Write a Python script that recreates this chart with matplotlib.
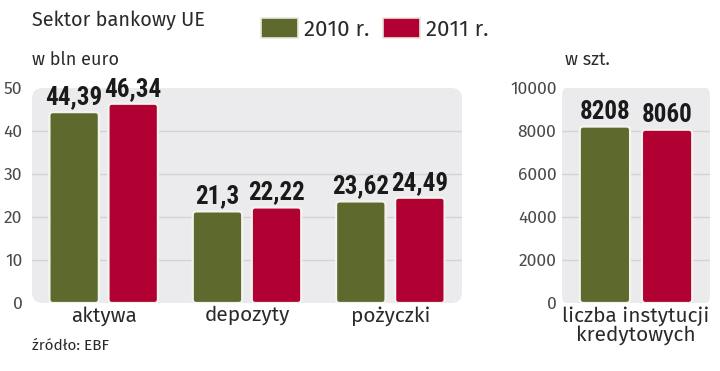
import matplotlib
matplotlib.use("Agg")
import matplotlib.pyplot as plt
from matplotlib.patches import FancyBboxPatch, Patch

plt.rcParams["font.family"] = ["Fira Sans", "DejaVu Sans"]
plt.rcParams["font.weight"] = "normal"

# data
categories = ["aktywa", "depozyty", "pożyczki"]
values_2010 = [44.39, 21.3, 23.62]
values_2011 = [46.34, 22.22, 24.49]
labels_2010 = ["44,39", "21,3", "23,62"]
labels_2011 = ["46,34", "22,22", "24,49"]
left_ticks = [0, 10, 20, 30, 40, 50]

inst_category = ["liczba instytucji\nkredytowych"]
inst_2010 = [8208]
inst_2011 = [8060]
right_ticks = [0, 2000, 4000, 6000, 8000, 10000]

years = ["2010 r.", "2011 r."]
GREEN = "#5e692d"
RED = "#b10032"
BG = "#ebebed"
GRID = "#d3d3d6"
TXT = "#2a2a2a"
VAL_FONT = dict(fontsize=18, fontweight="bold", family=["Roboto Condensed", "DejaVu Sans"],
                color="#1a1a1a", ha="center", va="bottom")


def rounded_bars(ax, bars, aspect, color):
    # swap plain bars for rounded ones
    for b in bars:
        x, y = b.get_x(), b.get_y()
        w, h = b.get_width(), b.get_height()
        b.remove()
        p = FancyBboxPatch((x, y), w, h, boxstyle="round,pad=0,rounding_size=0.025",
                           mutation_aspect=aspect, facecolor=color,
                           edgecolor="#f4f4ee", linewidth=1.6, zorder=3)
        ax.add_patch(p)


def setup(ax, ticks, pad):
    ax.set_facecolor("none")
    for s in ax.spines.values():
        s.set_visible(False)
    bg = FancyBboxPatch((0, 0), 1, 1, boxstyle="round,pad=0,rounding_size=0.025",
                        transform=ax.transAxes, facecolor=BG, edgecolor="none",
                        zorder=0, mutation_aspect=430 / 215)
    ax.add_patch(bg)
    ax.set_ylim(ticks[0], ticks[-1])
    ax.set_yticks(ticks)
    for t in ticks[1:-1]:
        ax.axhline(t, color=GRID, lw=1, zorder=1)
    ax.tick_params(axis="y", length=0, pad=pad, labelsize=12.5, labelcolor="#4a4a4a")
    ax.tick_params(axis="x", length=0, pad=2, labelsize=15, labelcolor=TXT)


fig = plt.figure(figsize=(7.2, 3.71), dpi=100)
fig.patch.set_facecolor("white")

# left panel
ax1 = fig.add_axes([32 / 720, 68 / 371, 430 / 720, 215 / 371])
setup(ax1, left_ticks, 7)
x = list(range(len(categories)))
off = 0.206
w = 0.345
b1 = ax1.bar([i - off for i in x], values_2010, w, color=GREEN)
b2 = ax1.bar([i + off for i in x], values_2011, w, color=RED)
asp1 = (50 / 215) * 143.5
rounded_bars(ax1, b1, asp1, GREEN)
rounded_bars(ax1, b2, asp1, RED)
for i in x:
    ax1.annotate(labels_2010[i], (i - off, values_2010[i]), xytext=(0, 2),
                 textcoords="offset points", **VAL_FONT)
    ax1.annotate(labels_2011[i], (i + off, values_2011[i]), xytext=(0, 2),
                 textcoords="offset points", **VAL_FONT)
ax1.set_xlim(-0.5, len(categories) - 0.5)
ax1.set_xticks(x, categories)

# right panel
ax2 = fig.add_axes([562 / 720, 68 / 371, 148 / 720, 215 / 371])
setup(ax2, right_ticks, 4)
b3 = ax2.bar([-0.21], inst_2010, 0.34, color=GREEN)
b4 = ax2.bar([0.21], inst_2011, 0.34, color=RED)
asp2 = (10000 / 215) * 148
rounded_bars(ax2, b3, asp2, GREEN)
rounded_bars(ax2, b4, asp2, RED)
ax2.annotate(str(inst_2010[0]), (-0.21, inst_2010[0]), xytext=(0, 2),
             textcoords="offset points", **VAL_FONT)
ax2.annotate(str(inst_2011[0]), (0.21, inst_2011[0]), xytext=(0, 2),
             textcoords="offset points", **VAL_FONT)
ax2.set_xlim(-0.5, 0.5)
ax2.set_xticks([0], inst_category)
for lbl in ax2.get_xticklabels():
    lbl.set_linespacing(0.95)

# texts
fig.text(32 / 720, 1 - 20 / 371, "Sektor bankowy UE", fontsize=14.3, color=TXT, va="center")
fig.text(32 / 720, 1 - 60 / 371, "w bln euro", fontsize=13, color=TXT, va="center")
fig.text(565 / 720, 1 - 60 / 371, "w szt.", fontsize=13, color=TXT, va="center")
fig.text(32 / 720, 1 - 346 / 371, "źródło: EBF", fontsize=11, color=TXT, va="center")

handles = [Patch(facecolor=GREEN, edgecolor="#e8e8dc", linewidth=1.2),
           Patch(facecolor=RED, edgecolor="#e8e8dc", linewidth=1.2)]
leg = fig.legend(handles, years, loc="center left", bbox_to_anchor=(252 / 720, 1 - 29 / 371),
                 ncol=2, frameon=False, fontsize=16, handlelength=1.65, handleheight=1.05,
                 handletextpad=0.3, columnspacing=0.6, borderaxespad=0)
for t in leg.get_texts():
    t.set_color(TXT)

fig.savefig("out.png", dpi=100)
